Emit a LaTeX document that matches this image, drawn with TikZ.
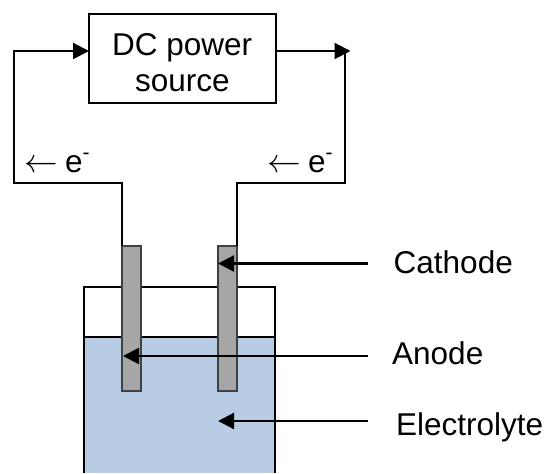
\documentclass[tikz,border=0pt]{standalone}
\usepackage{fontspec}
\setmainfont{Liberation Sans}
\usetikzlibrary{arrows.meta}
\definecolor{liquid}{RGB}{184,204,228}
\definecolor{metal}{RGB}{166,166,166}
\newcommand{\elabel}{\makebox[41pt][l]{\scalebox{1.35}{$\leftarrow$}}e\raisebox{13pt}{\fontsize{21pt}{21pt}\selectfont -}}
\tikzset{
  x=1pt,y=-1pt,
  wire/.style={draw=black,line width=1.7pt,line join=miter},
  flow/.style={draw=black,line width=2.2pt,-{Triangle[length=16pt,width=16pt]}},
  elec/.style={draw=black!75,fill=metal,line width=1.5pt,minimum width=19pt,minimum height=145pt,inner sep=0pt},
  lab/.style={font=\fontsize{31.5pt}{37.8pt}\selectfont,inner sep=0pt,anchor=base west},
}
\begin{document}
\begin{tikzpicture}
\useasboundingbox (0,0) rectangle (545,473);
% beaker
\fill[white] (84,287) rectangle (275,473);
\fill[liquid] (84,337) rectangle (275,473);
\draw[wire] (84,473) -- (84,287) -- (275,287) -- (275,473);
\draw[wire] (84,337) -- (275,337);
% electrodes
\node[elec] (anode) at (131.7,318.5) {};
\node[elec] (cathode) at (227.5,318.5) {};
% source
\node[draw=black,line width=1.7pt,minimum width=187pt,minimum height=89pt,inner sep=0pt] (src) at (182.5,58.5) {};
\node[lab] (t1) at (112,56) {DC power};
\node[lab] (t2) at (135,92) {source};
% wires
\coordinate (al) at (14,183);
\coordinate (at) at (14,51);
\coordinate (ar) at (122,183);
\coordinate (cr) at (345,183);
\coordinate (ct) at (350.5,51);
\coordinate (cc) at (345,51);
\coordinate (cl) at (237,183);
\coordinate (srcl) at (89,51);
\coordinate (srcr) at (276.5,51);
\coordinate (atop) at (122,246);
\coordinate (ctop) at (237,246);
\draw[wire] (atop) -- (ar) -- (al) -- (at) -- ++(6,0);
\draw[flow] (at) ++(-0.85,0) -- (srcl);
\draw[wire] (ctop) -- (cl) -- (cr) -- (cc);
\draw[flow] (srcr) -- (ct);
% labels
\node[lab] (cat) at (393.5,273) {Cathode};
\node[lab] (ano) at (392,364) {Anode};
\node[lab] (ely) at (396,435) {Electrolyte};
\node[lab] (e1) at (24,172) {\elabel};
\node[lab] (e2) at (267,172) {\elabel};
% pointers
\coordinate (pc) at (218,263.5);
\coordinate (pa) at (123,356);
\coordinate (pe) at (218,421);
\coordinate (sc) at (367.5,263.5);
\coordinate (sa) at (367.5,356);
\coordinate (se) at (367.5,421);
\draw[flow] (sc) -- (pc);
\draw[flow] (sa) -- (pa);
\draw[flow] (se) -- (pe);
\end{tikzpicture}
\end{document}
